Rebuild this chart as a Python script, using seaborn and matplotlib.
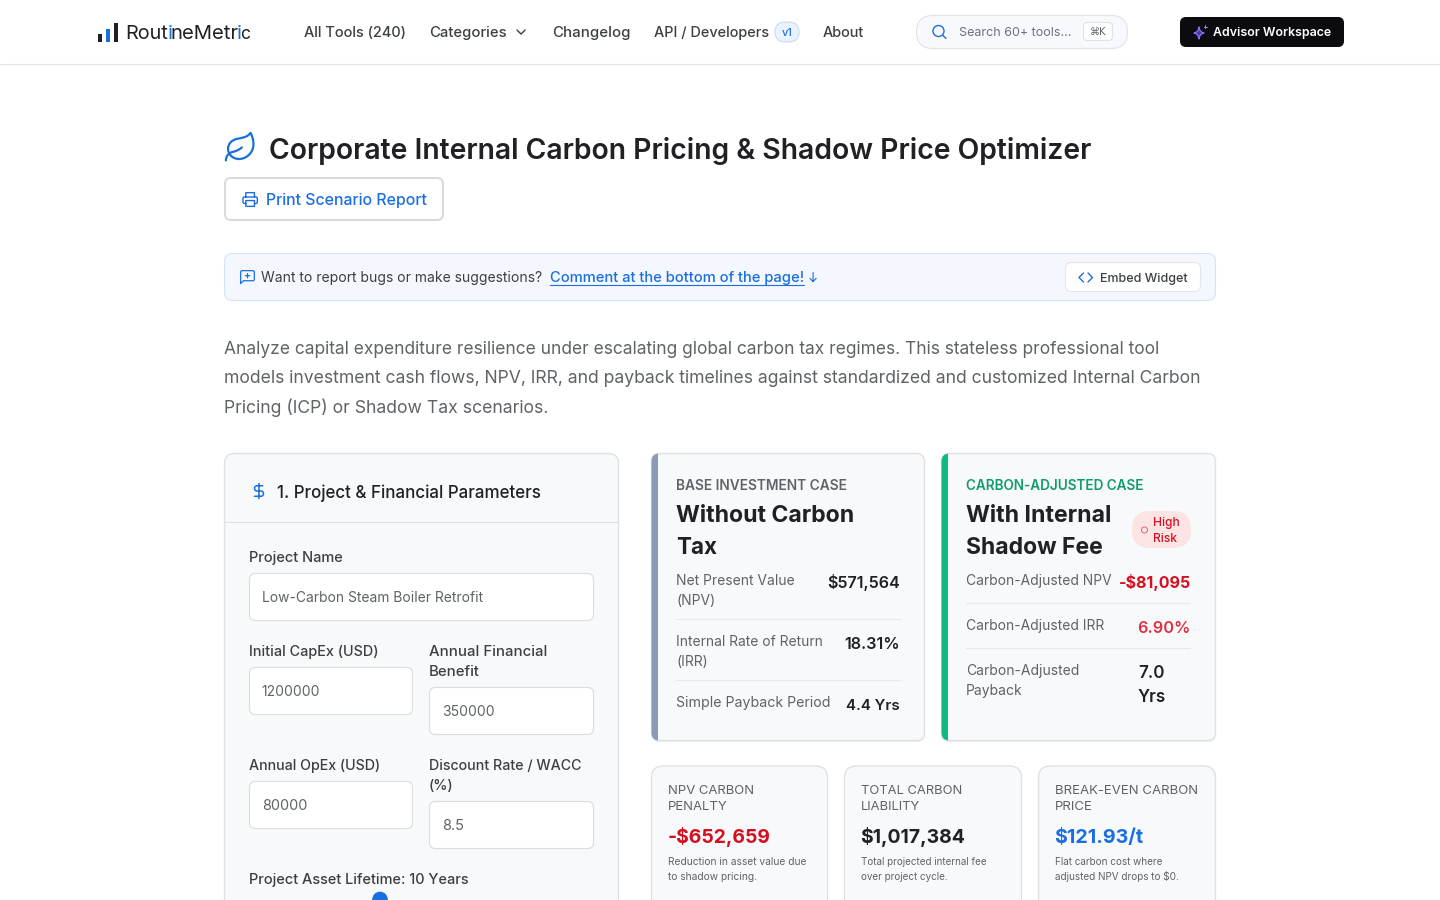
import matplotlib
matplotlib.use('Agg')
import matplotlib.pyplot as plt
import seaborn as sns
from matplotlib.patches import FancyBboxPatch, PathPatch, Circle, Rectangle
from matplotlib.path import Path

# page values
brand_runs = ['Rout', 'i', 'neMetr', 'i', 'c']
logo_levels = ['a', 'b', 'c']
logo_heights = [8, 13, 19]
nav_items = ['All Tools (240)', 'Categories', 'Changelog', 'API / Developers', 'About']
search_hint = 'Search 60+ tools...'
title = 'Corporate Internal Carbon Pricing & Shadow Price Optimizer'
intro = ['Analyze capital expenditure resilience under escalating global carbon tax regimes. This stateless professional tool',
         'models investment cash flows, NPV, IRR, and payback timelines against standardized and customized Internal Carbon',
         'Pricing (ICP) or Shadow Tax scenarios.']
form_labels = ['Project Name', 'Initial CapEx (USD)', 'Annual Financial\nBenefit',
               'Annual OpEx (USD)', 'Discount Rate / WACC\n(%)']
form_values = ['Low-Carbon Steam Boiler Retrofit', '1200000', '350000', '80000', '8.5']
lifetime_label = 'Project Asset Lifetime: 10 Years'
base_labels = ['Net Present Value\n(NPV)', 'Internal Rate of Return\n(IRR)', 'Simple Payback Period']
base_values = ['$571,564', '18.31%', '4.4 Yrs']
adj_labels = ['Carbon-Adjusted NPV', 'Carbon-Adjusted IRR', 'Carbon-Adjusted\nPayback']
adj_values = ['-$81,095', '6.90%', '7.0\nYrs']
kpi_labels = ['NPV CARBON\nPENALTY', 'TOTAL CARBON\nLIABILITY', 'BREAK-EVEN CARBON\nPRICE']
kpi_values = ['-$652,659', '$1,017,384', '$121.93/t']
kpi_notes = ['Reduction in asset value due\nto shadow pricing.',
             'Total projected internal fee\nover project cycle.',
             'Flat carbon cost where\nadjusted NPV drops to $0.']

BLUE = '#1a6fe0'
INK = '#202124'
GREY = '#5f6368'
LINE = '#dadce0'
PANEL = '#f8f9fb'
RED = '#d50f1f'

sns.set_theme(style='white')
plt.rcParams['font.family'] = ['Inter', 'DejaVu Sans']

fig = plt.figure(figsize=(14.4, 9), dpi=100, facecolor='white')
ax = fig.add_axes([0, 0, 1, 1])
ax.set_xlim(0, 1440)
ax.set_ylim(900, 0)
ax.axis('off')
rend = fig.canvas.get_renderer()


def T(x, y, s, px, color=INK, weight=400, ha='left', w=None, lh=None, z=5):
    # y is the middle of the line, w squeezes the font to a measured width
    size = px * 0.72
    for i, line in enumerate(s.split('\n')):
        t = ax.text(x, y + i * (lh or 0) + 0.36 * px, line, fontsize=size, color=color,
                    fontweight=weight, ha=ha, va='baseline', zorder=z)
        if w is not None and i == 0:
            size = size * w / t.get_window_extent(rend).width
            t.set_fontsize(size)


def box(x0, y0, x1, y1, r=6, fc='white', ec=LINE, lw=0.8, z=2):
    p = FancyBboxPatch((x0 + r, y0 + r), x1 - x0 - 2 * r, y1 - y0 - 2 * r,
                       boxstyle='round,pad=%s,rounding_size=%s' % (r, r),
                       fc=fc, ec=ec, lw=lw, zorder=z)
    ax.add_patch(p)
    return p


def card(x0, y0, x1, y1, r):
    box(x0 - 0.5, y0 + 1.5, x1 + 0.5, y1 + 1.5, r, fc='#e9ebee', ec='none', z=1)
    return box(x0, y0, x1, y1, r, fc=PANEL, ec='#dfe1e5', lw=1.0)


def icon(x, y, scale, d, color=BLUE, lw=1.0, fill='none', z=6):
    # tiny absolute M/L/C/Z svg reader
    tok = d.split()
    verts, codes, i = [], [], 0
    while i < len(tok):
        c = tok[i]
        if c == 'Z':
            verts.append((0, 0))
            codes.append(Path.CLOSEPOLY)
            i += 1
            continue
        n = 3 if c == 'C' else 1
        code = {'M': Path.MOVETO, 'L': Path.LINETO, 'C': Path.CURVE4}[c]
        for k in range(n):
            verts.append((x + float(tok[i + 1 + 2 * k]) * scale, y + float(tok[i + 2 + 2 * k]) * scale))
            codes.append(code)
        i += 1 + 2 * n
    ax.add_patch(PathPatch(Path(verts, codes), fc=fill, ec=color, lw=lw, zorder=z,
                           capstyle='round', joinstyle='round'))


# nav
ax.plot([0, 1440], [64.2, 64.2], color='#e3e5e8', lw=0.8, zorder=1)
logo_ax = fig.add_axes([96 / 1440, 1 - 41.5 / 900, 24 / 1440, 19.5 / 900])
sns.barplot(x=logo_levels, y=logo_heights, hue=logo_levels, palette=[INK, BLUE, INK],
            width=0.5, legend=False, saturation=1, linewidth=0, ax=logo_ax)
logo_ax.set_xlim(-0.5, 2.5)
logo_ax.set_ylim(0, 19.5)
logo_ax.axis('off')
T(125, 32, brand_runs[0], 20, INK, 400, w=43)
T(167.5, 32, brand_runs[1], 20, BLUE, 400)
T(170.5, 32, brand_runs[2], 20, INK, 400, w=68)
T(237, 32, brand_runs[3], 20, BLUE, 400)
T(240.5, 32, brand_runs[4], 20, INK, 400, w=10)

T(304, 31.5, nav_items[0], 14.5, '#3c4043', 500, w=102)
T(429.5, 31.5, nav_items[1], 14.5, '#3c4043', 500, w=77)
icon(517, 30, 0.9, 'M 0 0 L 4.5 4.5 L 9 0', '#3c4043', 1.0)
T(552.5, 31.5, nav_items[2], 14.5, '#3c4043', 500, w=77)
T(654, 31.5, nav_items[3], 14.5, '#3c4043', 500, w=115)
box(775, 22, 799, 42, 10, fc='#eaf2fd', ec='#c9dcf5', lw=0.8)
T(787, 32, 'v1', 11, BLUE, 500, ha='center')
T(823, 31.5, nav_items[4], 14.5, '#3c4043', 500, w=41)

box(916.5, 15.5, 1127.5, 48.5, 16.5, fc='#f7f9fc', ec='#dfe3e8', lw=0.8)
ax.add_patch(Circle((938.5, 31), 5.5, fc='none', ec=BLUE, lw=1.0, zorder=6))
icon(942.6, 35.1, 1, 'M 0 0 L 3.4 3.4', BLUE, 1.0)
T(959, 31.5, search_hint, 13, '#6b7280', 400, w=112)
box(1083.5, 22.5, 1112.5, 40.5, 4, fc='white', ec='#dfe3e8', lw=0.8)
ax.text(1098, 35, '⌘K', fontsize=7.2, color='#5f6368', ha='center', va='baseline', zorder=6,
        family=['DejaVu Sans'])

box(1180, 17, 1344, 47, 6, fc='#0b0b10', ec='none')
icon(1193, 27, 1, 'M 6 0 C 6.8 4 8 5.2 11 6 C 8 6.8 6.8 8 6 12 C 5.2 8 4 6.8 1 6 C 4 5.2 5.2 4 6 0 Z',
     '#8b6cf6', 0.9, fill='#4b3a9a')
icon(1204, 25, 1, 'M 1 0 L 1 3 M -0.5 1.5 L 2.5 1.5', '#a78bfa', 0.7)
T(1213, 31.5, 'Advisor Workspace', 13, 'white', 600, w=118)

# heading
icon(223, 130, 1.45, 'M 11 20 C 7 20 3.5 17 3.5 13 C 3.5 9.5 6 6.8 9.8 6.1 C 15.5 5 17 4.5 19 2 '
     'C 20 4 21 6.2 21 10 C 21 15.5 16.2 20 11 20 Z', BLUE, 1.6)
icon(223, 130, 1.45, 'M 2 21 C 2 18 3.85 15.64 7.08 15 C 9.5 14.52 12 13 13 12', BLUE, 1.6)
T(269, 147, title, 32, INK, 600, w=821)

box(225, 178, 443, 220, 6, fc='white', ec='#d7d9dd', lw=1.4)
icon(241.5, 190.5, 0.72, 'M 6 18 L 4 18 C 2.9 18 2 17.1 2 16 L 2 11 C 2 9.9 2.9 9 4 9 L 20 9 C 21.1 9 22 9.9 22 11 '
     'L 22 16 C 22 17.1 21.1 18 20 18 L 18 18 M 6 9 L 6 3 L 18 3 L 18 9 M 6 14 L 18 14 L 18 22 L 6 22 Z', BLUE, 1.0)
T(266, 199, 'Print Scenario Report', 16, BLUE, 500, w=160)

# feedback banner
box(224.5, 253.5, 1215.5, 300.5, 8, fc='#f4f8fe', ec='#d5e3f5', lw=0.8)
icon(238.5, 268.5, 0.72, 'M 22 15 C 22 16.1 21.1 17 20 17 L 7 17 L 3 21 L 3 5 C 3 3.9 3.9 3 5 3 L 20 3 C 21.1 3 22 3.9 22 5 Z '
     'M 12.5 7 L 12.5 13 M 9.5 10 L 15.5 10', BLUE, 0.9)
T(261, 277, 'Want to report bugs or make suggestions?', 14.5, '#3c4043', 400, w=281)
T(550, 277, 'Comment at the bottom of the page!', 14.5, BLUE, 500, w=252.5)
ax.plot([550, 804], [285, 285], color=BLUE, lw=0.8, zorder=5)
icon(809.5, 272.5, 0.9, 'M 4 0 L 4 10 M 0.5 6.5 L 4 10 L 7.5 6.5', BLUE, 0.8)
box(1065.5, 262.5, 1200.5, 291.5, 6, fc='white', ec='#e3e6ea', lw=0.8)
icon(1079, 273, 0.9, 'M 5 0 L 0 5 L 5 10 M 10 0 L 15 5 L 10 10', BLUE, 1.0)
T(1100, 277, 'Embed Widget', 13, '#3c4043', 500, w=88)

# intro text
T(224, 347.5, intro[0], 18.5, GREY, 400, w=939)
T(224, 376.5, intro[1], 18.5, GREY, 400, w=979)
T(224, 406.5, intro[2], 18.5, GREY, 400, w=325)

# left form panel, runs off the bottom of the page
card(224.5, 453.5, 618.5, 930, 10)
ax.plot([225, 618], [522.2, 522.2], color='#dfe1e5', lw=0.8, zorder=3)
icon(250, 482, 0.75, 'M 12 2 L 12 22 M 17 5 L 9.5 5 C 4.8 5 4.8 12 9.5 12 L 14.5 12 C 19.2 12 19.2 19 14.5 19 L 6 19',
     BLUE, 1.1)
T(277, 491.5, '1. Project & Financial Parameters', 18, INK, 500, w=264)

T(249, 557, form_labels[0], 14.5, '#3c4043', 500, w=94)
box(249.5, 573.5, 593.5, 620.5, 6)
T(262, 597, form_values[0], 14.5, GREY, 400, w=221)

T(249, 651, form_labels[1], 14.5, '#3c4043', 500, w=129)
box(249.5, 667.5, 412.5, 714.5, 6)
T(261.5, 691, form_values[1], 14.5, GREY, 400, w=58)

T(429, 651, form_labels[2], 14.5, '#3c4043', 500, w=117, lh=20)
box(429.5, 687.5, 593.5, 734.5, 6)
T(442, 711, form_values[2], 14.5, GREY, 400, w=52)

T(249, 765, form_labels[3], 14.5, '#3c4043', 500, w=131)
box(249.5, 781.5, 412.5, 828.5, 6)
T(262, 805, form_values[3], 14.5, GREY, 400, w=45)

T(429, 765, form_labels[4], 14.5, '#3c4043', 500, w=152, lh=20)
box(429.5, 801.5, 593.5, 848.5, 6)
T(442, 825, form_values[4], 14.5, GREY, 400)

T(249, 879, lifetime_label, 14.5, '#3c4043', 500, w=220)
ax.add_patch(Circle((380, 899.5), 7.8, fc=BLUE, ec='none', zorder=6))


def result_card(x0, x1, strip, head, head_color, head_w, name, name_w):
    card(x0 + 0.5, 453.5, x1 - 0.5, 740.5, 8)
    clip = box(x0 + 0.5, 453.5, x1 - 0.5, 740.5, 8, fc='none', ec='none', z=1)
    bar = Rectangle((x0, 453), 7, 288, fc=strip, ec='none', zorder=3)
    ax.add_patch(bar)
    bar.set_clip_path(clip)
    T(x0 + 25, 486, head, 12, head_color, 600, w=head_w)
    T(x0 + 25, 513, name[0], 25, INK, 700, w=name_w[0])
    T(x0 + 25, 545, name[1], 25, INK, 700, w=name_w[1])


# base case card
result_card(651, 925, '#8a9bb8', 'BASE INVESTMENT CASE', GREY, 171, ['Without Carbon', 'Tax'], [178, 41])
T(676, 580, base_labels[0], 14.5, GREY, 400, w=119, lh=20)
T(900, 582, base_values[0], 16.5, INK, 600, ha='right', w=73)
ax.plot([676, 900], [618.5, 618.5], color='#e6e8eb', lw=0.8, zorder=3)
T(676, 641, base_labels[1], 14.5, GREY, 400, w=147, lh=20)
T(900, 643, base_values[1], 16.5, INK, 600, ha='right', w=56)
ax.plot([676, 900], [679.5, 679.5], color='#e6e8eb', lw=0.8, zorder=3)
T(676, 702, base_labels[2], 14.5, GREY, 400, w=154)
T(900, 704, base_values[2], 16.5, INK, 600, ha='right', w=54)

# carbon adjusted card
result_card(941, 1216, '#10b981', 'CARBON-ADJUSTED CASE', '#0f9d6c', 178, ['With Internal', 'Shadow Fee'], [145, 137])
box(1132, 511, 1191, 548, 18, fc='#fde4e4', ec='none')
ax.add_patch(Circle((1144.5, 530), 3.0, fc='none', ec='#d9656d', lw=0.7, zorder=6))
T(1153, 522, 'High\nRisk', 12, RED, 500, lh=16)
T(966, 580, adj_labels[0], 14.5, GREY, 400, w=145)
T(1191, 582, adj_values[0], 17, RED, 700, ha='right', w=72)
ax.plot([966, 1190], [602.5, 602.5], color='#e6e8eb', lw=0.8, zorder=3)
T(966, 625, adj_labels[1], 14.5, GREY, 400, w=138)
T(1190, 627, adj_values[1], 17, '#e0303f', 600, ha='right', w=53)
ax.plot([966, 1190], [647.5, 647.5], color='#e6e8eb', lw=0.8, zorder=3)
T(966, 670, adj_labels[2], 14.5, GREY, 400, w=113, lh=20)
T(1138, 672, adj_values[2], 17, INK, 600, lh=24)

# kpi cards
kpi_x = [(651, 828), (844, 1022), (1038, 1216)]
kpi_colors = [RED, INK, BLUE]
kpi_label_w = [87, 102, 144]
kpi_value_w = [103, 105, 89]
kpi_note_w = [139, 126, 108]
for i in range(3):
    x0, x1 = kpi_x[i]
    card(x0 + 0.5, 766, x1 - 0.5, 940, 12)
    tx = x0 + 17
    T(tx, 790, kpi_labels[i], 12.5, GREY, 400, w=kpi_label_w[i], lh=16)
    T(tx - 0.5, 835.5, kpi_values[i], 21, kpi_colors[i], 700, w=kpi_value_w[i])
    T(tx, 861, kpi_notes[i], 11, GREY, 400, w=kpi_note_w[i], lh=15)

fig.savefig('out.png', dpi=100)
